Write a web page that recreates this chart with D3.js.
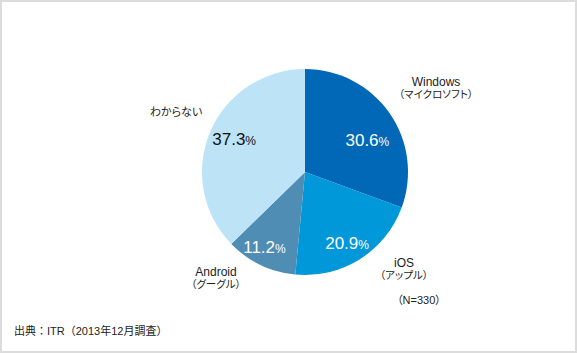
<!DOCTYPE html>
<html>
<head>
<meta charset="utf-8">
<script src="https://cdn.jsdelivr.net/npm/d3@7"></script>
<style>
  body { margin: 0; background: #fff; }
  text { font-family: "Liberation Sans", Arial, "Noto Sans CJK JP", sans-serif; font-feature-settings: "palt"; }
  text.nopalt { font-feature-settings: normal; }
</style>
</head>
<body>
<script>
// data
const categories = ["Windows", "iOS", "Android", "わからない"];
const subLabels = ["（マイクロソフト）", "（アップル）", "（グーグル）", ""];
const values = [30.6, 20.9, 11.2, 37.3];
const colors = ["#0068b6", "#0198da", "#4f8db4", "#bde3f7"];
const pctColors = ["#fff", "#fff", "#fff", "#111"];

const width = 577, height = 353;
const cx = 305, cy = 172, radius = 103;

const svg = d3.select("body").append("svg")
    .attr("width", width)
    .attr("height", height);

// frame
svg.append("rect")
    .attr("x", 1).attr("y", 1)
    .attr("width", width - 2).attr("height", height - 2)
    .attr("fill", "#fff")
    .attr("stroke", "#dcdcdc")
    .attr("stroke-width", 2);

const data = categories.map((c, i) => ({ name: c, sub: subLabels[i], value: values[i], i: i }));

const pie = d3.pie().sort(null).value(d => d.value);
const arc = d3.arc().innerRadius(0).outerRadius(radius);
const arcs = pie(data);

const g = svg.append("g").attr("transform", "translate(" + cx + "," + cy + ")");

g.selectAll("path.slice")
    .data(arcs)
    .enter()
    .append("path")
    .attr("class", "slice")
    .attr("d", arc)
    .attr("fill", d => colors[d.data.i]);

// percentage labels inside (centroid + small nudge)
const inner = d3.arc().innerRadius(radius * 0.62).outerRadius(radius * 0.62);
const pctOffset = [[10, 5], [8, 17], [-13, 18], [-12, -8]];
g.selectAll("text.pct")
    .data(arcs)
    .enter()
    .append("text")
    .attr("class", "pct")
    .attr("transform", d => {
        const p = inner.centroid(d);
        const o = pctOffset[d.data.i];
        return "translate(" + (p[0] + o[0]) + "," + (p[1] + o[1]) + ")";
    })
    .attr("text-anchor", "middle")
    .attr("dy", "0.35em")
    .attr("fill", d => pctColors[d.data.i])
    .each(function(d) {
        const t = d3.select(this);
        t.append("tspan").style("font-size", "17px").text(d.data.value.toFixed(1));
        t.append("tspan").style("font-size", "12px").text("%");
    });

// outside labels
const labelPos = [[436, 86], [404, 267], [216, 276], [176, 116]];
data.forEach((d, i) => {
    const t = svg.append("text")
        .attr("x", labelPos[i][0])
        .attr("y", labelPos[i][1])
        .attr("text-anchor", "middle")
        .style("font-size", i === 3 ? "11px" : "12px")
        .attr("fill", "#222");
    t.append("tspan").attr("x", labelPos[i][0]).text(d.name);
    if (d.sub) {
        t.append("tspan")
            .attr("x", labelPos[i][0])
            .attr("dy", 12)
            .style("font-size", "10.5px")
            .text(d.sub);
    }
});

svg.append("text")
    .attr("x", 419).attr("y", 304)
    .attr("text-anchor", "middle")
    .style("font-size", "11px")
    .attr("fill", "#222")
    .text("（N=330）");

svg.append("text")
    .attr("class", "nopalt")
    .attr("x", 14).attr("y", 335)
    .style("font-size", "11px")
    .attr("fill", "#222")
    .text("出典：ITR（2013年12月調査）");
</script>
</body>
</html>
